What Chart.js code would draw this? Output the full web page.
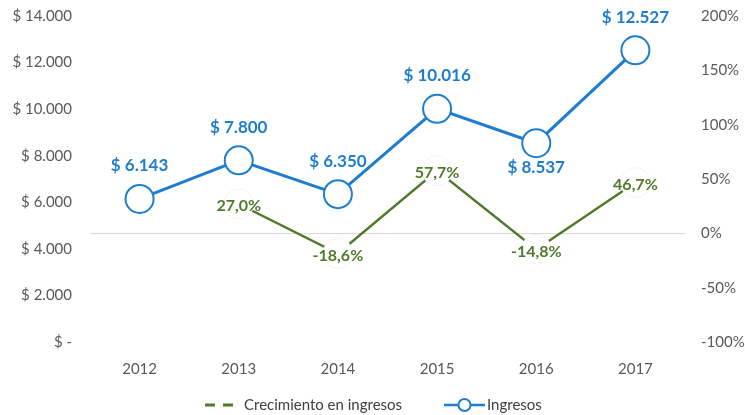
<!DOCTYPE html>
<html>
<head>
<meta charset="utf-8">
<script src="https://cdn.jsdelivr.net/npm/chart.js@4/dist/chart.umd.min.js"></script>
<style>
  html, body { margin: 0; padding: 0; background: #fff; }
  #wrap { width: 745px; height: 415px; position: relative; }
</style>
</head>
<body>
<div id="wrap"><canvas id="chart" width="745" height="415"></canvas></div>
<script>
const years = ["2012", "2013", "2014", "2015", "2016", "2017"];
const ingresos = [6143, 7800, 6350, 10016, 8537, 12527];
const crecimiento = [null, 0.270, -0.186, 0.577, -0.148, 0.467];
const seriesNames = ["Crecimiento en ingresos", "Ingresos"];

const BLUE = "#1F7DCF";
const GREEN = "#4F7A2B";
const FONT = "Lato, 'Noto Sans', sans-serif";

const money = v => v === 0 ? "$ -" : "$ " + String(v).replace(/\B(?=(\d{3})+(?!\d))/g, ".");
const pct = v => (v * 100).toFixed(1).replace(".", ",") + "%";

// labels on the points (no datalabels plugin available offline)
const pointLabels = {
    id: "pointLabels",
    afterDatasetsDraw(chart) {
        const ctx = chart.ctx;
        ctx.save();
        ctx.textAlign = "center";
        ctx.textBaseline = "middle";
        // growth labels, centered on the hidden white marker
        chart.getDatasetMeta(0).data.forEach((pt, i) => {
            if (crecimiento[i] === null) return;
            ctx.font = "bold 16px " + FONT;
            ctx.fillStyle = GREEN;
            ctx.fillText(pct(crecimiento[i]), pt.x, pt.y + 2);
        });
        // revenue labels, above (2016 below)
        chart.getDatasetMeta(1).data.forEach((pt, i) => {
            ctx.font = "bold 17px " + FONT;
            ctx.fillStyle = BLUE;
            const dy = i === 4 ? 24 : -33;
            ctx.fillText(money(ingresos[i]), pt.x, pt.y + dy);
        });
        ctx.restore();
    }
};

// excel-like legend at the bottom
const bottomLegend = {
    id: "bottomLegend",
    afterDraw(chart) {
        const ctx = chart.ctx;
        const y = 405;
        ctx.save();
        ctx.font = "15px " + FONT;
        ctx.fillStyle = "#404040";
        ctx.textBaseline = "middle";
        ctx.textAlign = "left";

        ctx.strokeStyle = GREEN;
        ctx.lineWidth = 3;
        ctx.setLineDash([10, 8]);
        ctx.beginPath();
        ctx.moveTo(205, y);
        ctx.lineTo(241, y);
        ctx.stroke();
        ctx.setLineDash([]);
        ctx.fillText(seriesNames[0], 244, y);

        ctx.strokeStyle = BLUE;
        ctx.lineWidth = 2.5;
        ctx.beginPath();
        ctx.moveTo(444, y);
        ctx.lineTo(485, y);
        ctx.stroke();
        ctx.beginPath();
        ctx.arc(464.5, y, 6, 0, Math.PI * 2);
        ctx.fillStyle = "#fff";
        ctx.fill();
        ctx.lineWidth = 2;
        ctx.stroke();
        ctx.fillStyle = "#404040";
        ctx.fillText(seriesNames[1], 487, y);
        ctx.restore();
    }
};

const fitY = w => s => {
    s.width = w;
    s.paddingTop = 0;
    s.paddingBottom = 0;
};

new Chart(document.getElementById("chart"), {
    type: "line",
    data: {
        labels: years,
        datasets: [
            {
                label: seriesNames[0],
                data: crecimiento,
                yAxisID: "y1",
                borderColor: GREEN,
                borderWidth: 2.5,
                pointRadius: 15,
                pointBackgroundColor: "#fff",
                pointBorderColor: "#f3f3f3",
                pointBorderWidth: 1,
                spanGaps: false,
                tension: 0
            },
            {
                label: seriesNames[1],
                data: ingresos,
                yAxisID: "y",
                borderColor: BLUE,
                borderWidth: 3,
                pointRadius: 14,
                pointBackgroundColor: "#fff",
                pointBorderColor: BLUE,
                pointBorderWidth: 2,
                tension: 0
            }
        ]
    },
    options: {
        responsive: false,
        animation: false,
        layout: { padding: { top: 16, left: 0, right: 0, bottom: 0 } },
        plugins: {
            legend: { display: false },
            tooltip: { enabled: false }
        },
        scales: {
            x: {
                offset: true,
                grid: { display: false },
                border: { display: false },
                ticks: { color: "#595959", font: { family: FONT, size: 15 }, padding: 10 },
                afterFit: s => { s.height = 73; }
            },
            y: {
                position: "left",
                min: 0,
                max: 14000,
                grid: { display: false },
                border: { display: false },
                ticks: {
                    stepSize: 2000,
                    color: "#595959",
                    font: { family: FONT, size: 15 },
                    padding: 10,
                    callback: v => money(v)
                },
                afterFit: fitY(90)
            },
            y1: {
                position: "right",
                min: -1,
                max: 2,
                border: { display: false },
                grid: {
                    drawTicks: false,
                    lineWidth: 1,
                    color: c => c.tick && c.tick.value === 0 ? "#d9d9d9" : "rgba(0,0,0,0)"
                },
                ticks: {
                    stepSize: 0.5,
                    color: "#595959",
                    font: { family: FONT, size: 15 },
                    padding: 16,
                    callback: v => Math.round(v * 100) + "%"
                },
                afterFit: fitY(60)
            }
        }
    },
    plugins: [pointLabels, bottomLegend]
});
</script>
</body>
</html>
